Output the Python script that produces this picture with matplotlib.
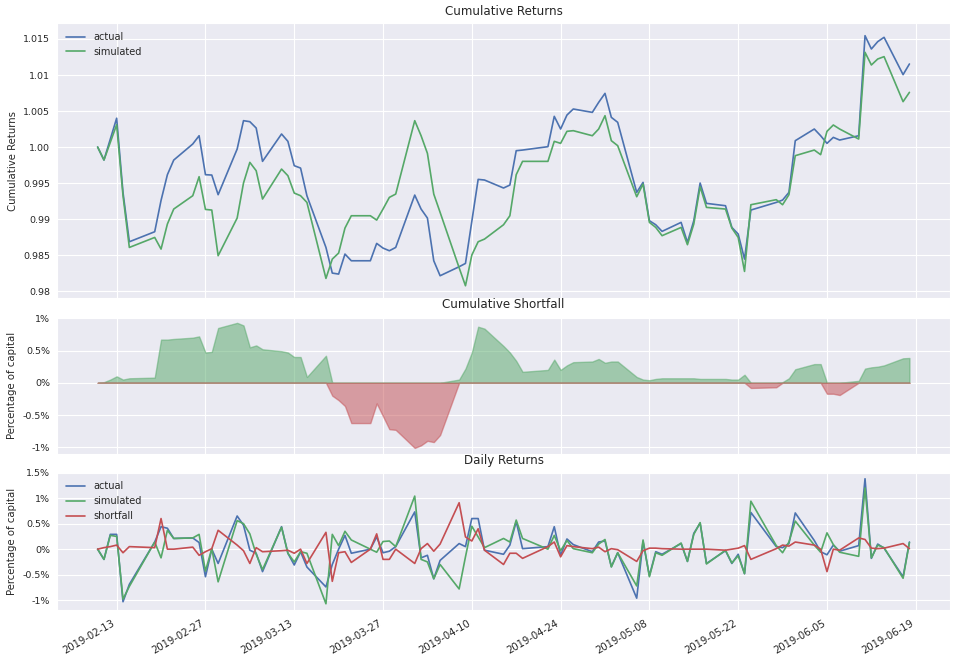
import numpy as np
import pandas as pd
import matplotlib
matplotlib.use('Agg')
import matplotlib.pyplot as plt
import matplotlib.dates as mdates
import seaborn as sns

# trading days (first point is the start value)
dates = [
    '2019-02-10', '2019-02-11', '2019-02-12', '2019-02-13', '2019-02-14', '2019-02-15',
    '2019-02-19', '2019-02-20', '2019-02-21', '2019-02-22',
    '2019-02-25', '2019-02-26', '2019-02-27', '2019-02-28', '2019-03-01',
    '2019-03-04', '2019-03-05', '2019-03-06', '2019-03-07', '2019-03-08',
    '2019-03-11', '2019-03-12', '2019-03-13', '2019-03-14', '2019-03-15',
    '2019-03-18', '2019-03-19', '2019-03-20', '2019-03-21', '2019-03-22',
    '2019-03-25', '2019-03-26', '2019-03-27', '2019-03-28', '2019-03-29',
    '2019-04-01', '2019-04-02', '2019-04-03', '2019-04-04', '2019-04-05',
    '2019-04-08', '2019-04-09', '2019-04-10', '2019-04-11', '2019-04-12',
    '2019-04-15', '2019-04-16', '2019-04-17', '2019-04-18',
    '2019-04-22', '2019-04-23', '2019-04-24', '2019-04-25', '2019-04-26',
    '2019-04-29', '2019-04-30', '2019-05-01', '2019-05-02', '2019-05-03',
    '2019-05-06', '2019-05-07', '2019-05-08', '2019-05-09', '2019-05-10',
    '2019-05-13', '2019-05-14', '2019-05-15', '2019-05-16', '2019-05-17',
    '2019-05-20', '2019-05-21', '2019-05-22', '2019-05-23', '2019-05-24',
    '2019-05-28', '2019-05-29', '2019-05-30', '2019-05-31',
    '2019-06-03', '2019-06-04', '2019-06-05', '2019-06-06', '2019-06-07',
    '2019-06-10', '2019-06-11', '2019-06-12', '2019-06-13', '2019-06-14',
    '2019-06-17', '2019-06-18',
]

actual_cum = [
    1.0000, 0.9982, 1.0011, 1.0040, 0.9937, 0.98685,
    0.98824, 0.99259, 0.99616, 0.99819,
    1.00042, 1.00157, 0.99616, 0.99611, 0.99338,
    0.99972, 1.00366, 1.00352, 1.00264, 0.99801,
    1.00181, 1.00079, 0.99741, 0.99708, 0.99324,
    0.98606, 0.98250, 0.98236, 0.98514, 0.98421,
    0.98421, 0.98662, 0.98597, 0.98560, 0.98606,
    0.99333, 0.99139, 0.99014, 0.98421, 0.98213,
    0.98338, 0.98384, 0.98968, 0.99551, 0.99542,
    0.99431, 0.99472, 0.99949, 0.99958,
    1.00005, 1.00426, 1.00250, 1.00444, 1.00528,
    1.00481, 1.00620, 1.00745, 1.00412, 1.00343,
    0.99370, 0.99509, 0.98977, 0.98921, 0.98829,
    0.98954, 0.98676, 0.98977, 0.99500, 0.99218,
    0.99185, 0.98884, 0.98792, 0.98444, 0.99125,
    0.99231, 0.99264, 0.99370, 1.00088,
    1.00250, 1.00157, 1.00051, 1.00134, 1.00097,
    1.00157, 1.01546, 1.01361, 1.01463, 1.01523,
    1.01005, 1.01153,
]

simulated_cum = [
    1.0000, 0.9982, 1.00065, 1.0031, 0.99327, 0.98606,
    0.98745, 0.98583, 0.98931, 0.99139,
    0.99324, 0.99588, 0.99134, 0.99125, 0.98491,
    0.99014, 0.99500, 0.99787, 0.99671, 0.99278,
    0.99694, 0.99602, 0.99361, 0.99324, 0.99231,
    0.98176, 0.98444, 0.98528, 0.98875, 0.99046,
    0.99046, 0.98986, 0.99139, 0.99301, 0.99347,
    1.00366, 1.00157, 0.99912, 0.99347, 0.99093,
    0.98324, 0.98074, 0.98500, 0.98685, 0.98722,
    0.98921, 0.99046, 0.99616, 0.99801,
    0.99801, 1.00079, 1.00051, 1.00218, 1.00227,
    1.00157, 1.00250, 1.00435, 1.00088, 1.00019,
    0.99310, 0.99486, 0.98954, 0.98884, 0.98769,
    0.98884, 0.98644, 0.98931, 0.99449, 0.99162,
    0.99139, 0.98875, 0.98745, 0.98273, 0.99199,
    0.99269, 0.99199, 0.99338, 0.99880,
    0.99958, 0.99894, 1.00218, 1.00306, 1.00250,
    1.00111, 1.01315, 1.01139, 1.01222, 1.01255,
    1.00630, 1.00759,
]

# cumulative shortfall, percent of capital
shortfall_cum = [
    0.00, 0.01, 0.05, 0.10, 0.05, 0.07,
    0.08, 0.67, 0.67, 0.68,
    0.70, 0.72, 0.47, 0.48, 0.85,
    0.93, 0.89, 0.55, 0.58, 0.52,
    0.49, 0.47, 0.40, 0.40, 0.09,
    0.42, -0.20, -0.27, -0.36, -0.625,
    -0.625, -0.32, -0.52, -0.72, -0.73,
    -1.01, -0.97, -0.90, -0.92, -0.81,
    0.05, 0.22, 0.47, 0.87, 0.84,
    0.57, 0.47, 0.34, 0.17,
    0.20, 0.36, 0.20, 0.27, 0.32,
    0.33, 0.37, 0.31, 0.33, 0.33,
    0.09, 0.05, 0.04, 0.06, 0.07,
    0.07, 0.07, 0.07, 0.06, 0.06,
    0.06, 0.05, 0.05, 0.125, -0.08,
    -0.07, 0.01, 0.07, 0.21,
    0.29, 0.29, -0.17, -0.17, -0.19,
    0.03, 0.22, 0.24, 0.25, 0.27,
    0.38, 0.385,
]

# daily returns, percent of capital
actual_daily = [
    0.00, -0.20, 0.29, 0.29, -1.03, -0.69,
    0.14, 0.44, 0.41, 0.21,
    0.22, 0.13, -0.54, 0.00, -0.28,
    0.65, 0.47, -0.02, -0.08, -0.44,
    0.44, -0.08, -0.31, -0.05, -0.35,
    -0.74, -0.30, 0.00, 0.27, -0.08,
    0.00, 0.24, -0.07, -0.04, 0.05,
    0.73, -0.17, -0.12, -0.58, -0.22,
    0.11, 0.05, 0.60, 0.60, -0.02,
    -0.10, 0.08, 0.54, 0.01,
    0.05, 0.44, -0.12, 0.20, 0.09,
    -0.05, 0.14, 0.16, -0.34, -0.07,
    -0.96, 0.15, -0.52, -0.05, -0.10,
    0.11, -0.24, 0.31, 0.51, -0.28,
    -0.03, -0.28, -0.10, -0.48, 0.72,
    0.05, 0.03, 0.11, 0.71,
    0.17, -0.05, -0.11, 0.08, -0.04,
    0.07, 1.38, -0.18, 0.10, 0.02,
    -0.54, 0.14,
]

simulated_daily = [
    0.00, -0.20, 0.27, 0.25, -0.98, -0.73,
    0.14, -0.17, 0.37, 0.21,
    0.22, 0.29, -0.43, 0.01, -0.64,
    0.56, 0.50, 0.30, -0.10, -0.40,
    0.43, -0.08, -0.25, -0.05, -0.08,
    -1.07, 0.29, 0.07, 0.35, 0.18,
    0.00, -0.06, 0.15, 0.16, 0.05,
    1.04, -0.20, -0.25, -0.58, -0.30,
    -0.78, -0.15, 0.45, 0.24, 0.03,
    0.21, 0.14, 0.57, 0.21,
    0.00, 0.27, -0.03, 0.17, 0.01,
    -0.07, 0.10, 0.19, -0.35, -0.07,
    -0.72, 0.18, -0.54, -0.07, -0.12,
    0.12, -0.24, 0.29, 0.52, -0.29,
    -0.02, -0.27, -0.13, -0.48, 0.94,
    0.07, -0.07, 0.14, 0.55,
    0.08, -0.06, 0.32, 0.09, -0.06,
    -0.14, 1.20, -0.17, 0.08, 0.03,
    -0.57, 0.13,
]

shortfall_daily = [
    0.00, 0.03, 0.05, 0.08, -0.07, 0.05,
    0.03, 0.60, 0.00, 0.00,
    0.04, -0.12, -0.05, 0.01, 0.37,
    0.08, -0.03, -0.28, 0.03, -0.05,
    -0.03, -0.02, -0.08, 0.00, -0.28,
    0.33, -0.63, -0.07, -0.05, -0.26,
    0.00, 0.30, -0.20, -0.20, 0.00,
    -0.28, 0.01, 0.11, -0.04, 0.10,
    0.91, 0.24, 0.16, 0.40, -0.02,
    -0.30, -0.08, -0.08, -0.18,
    0.05, 0.14, -0.15, 0.07, 0.05,
    0.01, 0.04, -0.05, 0.01, -0.01,
    -0.24, -0.03, 0.02, 0.02, 0.01,
    0.00, 0.00, 0.00, 0.00, 0.00,
    -0.02, 0.00, 0.02, 0.07, -0.20,
    0.01, 0.08, 0.06, 0.14,
    0.08, 0.00, -0.44, 0.00, -0.02,
    0.22, 0.19, 0.02, 0.01, 0.02,
    0.11, 0.01,
]

xtick_dates = ['2019-02-13', '2019-02-27', '2019-03-13', '2019-03-27', '2019-04-10',
               '2019-04-24', '2019-05-08', '2019-05-22', '2019-06-05', '2019-06-19']
cum_ticks = [0.98, 0.985, 0.99, 0.995, 1.0, 1.005, 1.01, 1.015]
cum_labels = ['0.98', '0.985', '0.99', '0.995', '1.00', '1.005', '1.01', '1.015']
short_ticks = [-1, -0.5, 0, 0.5, 1]
short_labels = ['-1%', '-0.5%', '0%', '0.5%', '1%']
daily_ticks = [-1, -0.5, 0, 0.5, 1, 1.5]
daily_labels = ['-1%', '-0.5%', '0%', '0.5%', '1%', '1.5%']

sns.set_style('darkgrid')
plt.rcParams['font.family'] = ['DejaVu Sans']
plt.rcParams['font.size'] = 6.8
plt.rcParams['axes.titlesize'] = 8.6
plt.rcParams['axes.labelsize'] = 7.3
plt.rcParams['xtick.labelsize'] = 7.2
plt.rcParams['ytick.labelsize'] = 6.8
plt.rcParams['legend.fontsize'] = 7.0
plt.rcParams['ytick.major.pad'] = 1.5
plt.rcParams['xtick.major.pad'] = 2.5

blue, green, red = sns.color_palette('deep')[0], sns.color_palette('deep')[2], sns.color_palette('deep')[3]

x = pd.to_datetime(dates)
sc = np.array(shortfall_cum)

fig = plt.figure(figsize=(9.57, 6.62), dpi=100)
gs = fig.add_gridspec(3, 1, height_ratios=[2, 1, 1], left=0.0596, right=0.9927,
                      top=0.965, bottom=0.0785, hspace=0.10)
ax1 = fig.add_subplot(gs[0])
ax2 = fig.add_subplot(gs[1], sharex=ax1)
ax3 = fig.add_subplot(gs[2], sharex=ax1)

lw = 1.2
ax1.plot(x, actual_cum, color=blue, lw=lw, label='actual')
ax1.plot(x, simulated_cum, color=green, lw=lw, label='simulated')
ax1.set_title('Cumulative Returns')
ax1.set_ylabel('Cumulative Returns')
ax1.set_yticks(cum_ticks)
ax1.set_yticklabels(cum_labels)
ax1.legend(loc='upper left', frameon=False)

ax2.fill_between(x, 0, np.maximum(sc, 0), color=green, alpha=0.5)
ax2.fill_between(x, 0, np.minimum(sc, 0), color=red, alpha=0.5)
ax2.set_title('Cumulative Shortfall')
ax2.set_ylabel('Percentage of capital')
ax2.set_yticks(short_ticks)
ax2.set_yticklabels(short_labels)

ax3.plot(x, actual_daily, color=blue, lw=lw, label='actual')
ax3.plot(x, simulated_daily, color=green, lw=lw, label='simulated')
ax3.plot(x, shortfall_daily, color=red, lw=lw, label='shortfall')
ax3.set_title('Daily Returns')
ax3.set_ylabel('Percentage of capital')
ax3.set_yticks(daily_ticks)
ax3.set_yticklabels(daily_labels)
ax3.legend(loc='upper left', frameon=False)

ax3.set_xticks(pd.to_datetime(xtick_dates))
ax3.xaxis.set_major_formatter(mdates.DateFormatter('%Y-%m-%d'))
plt.setp(ax1.get_xticklabels(), visible=False)
plt.setp(ax2.get_xticklabels(), visible=False)
plt.setp(ax3.get_xticklabels(), rotation=30, ha='right')

fig.savefig('out.png', dpi=100)
